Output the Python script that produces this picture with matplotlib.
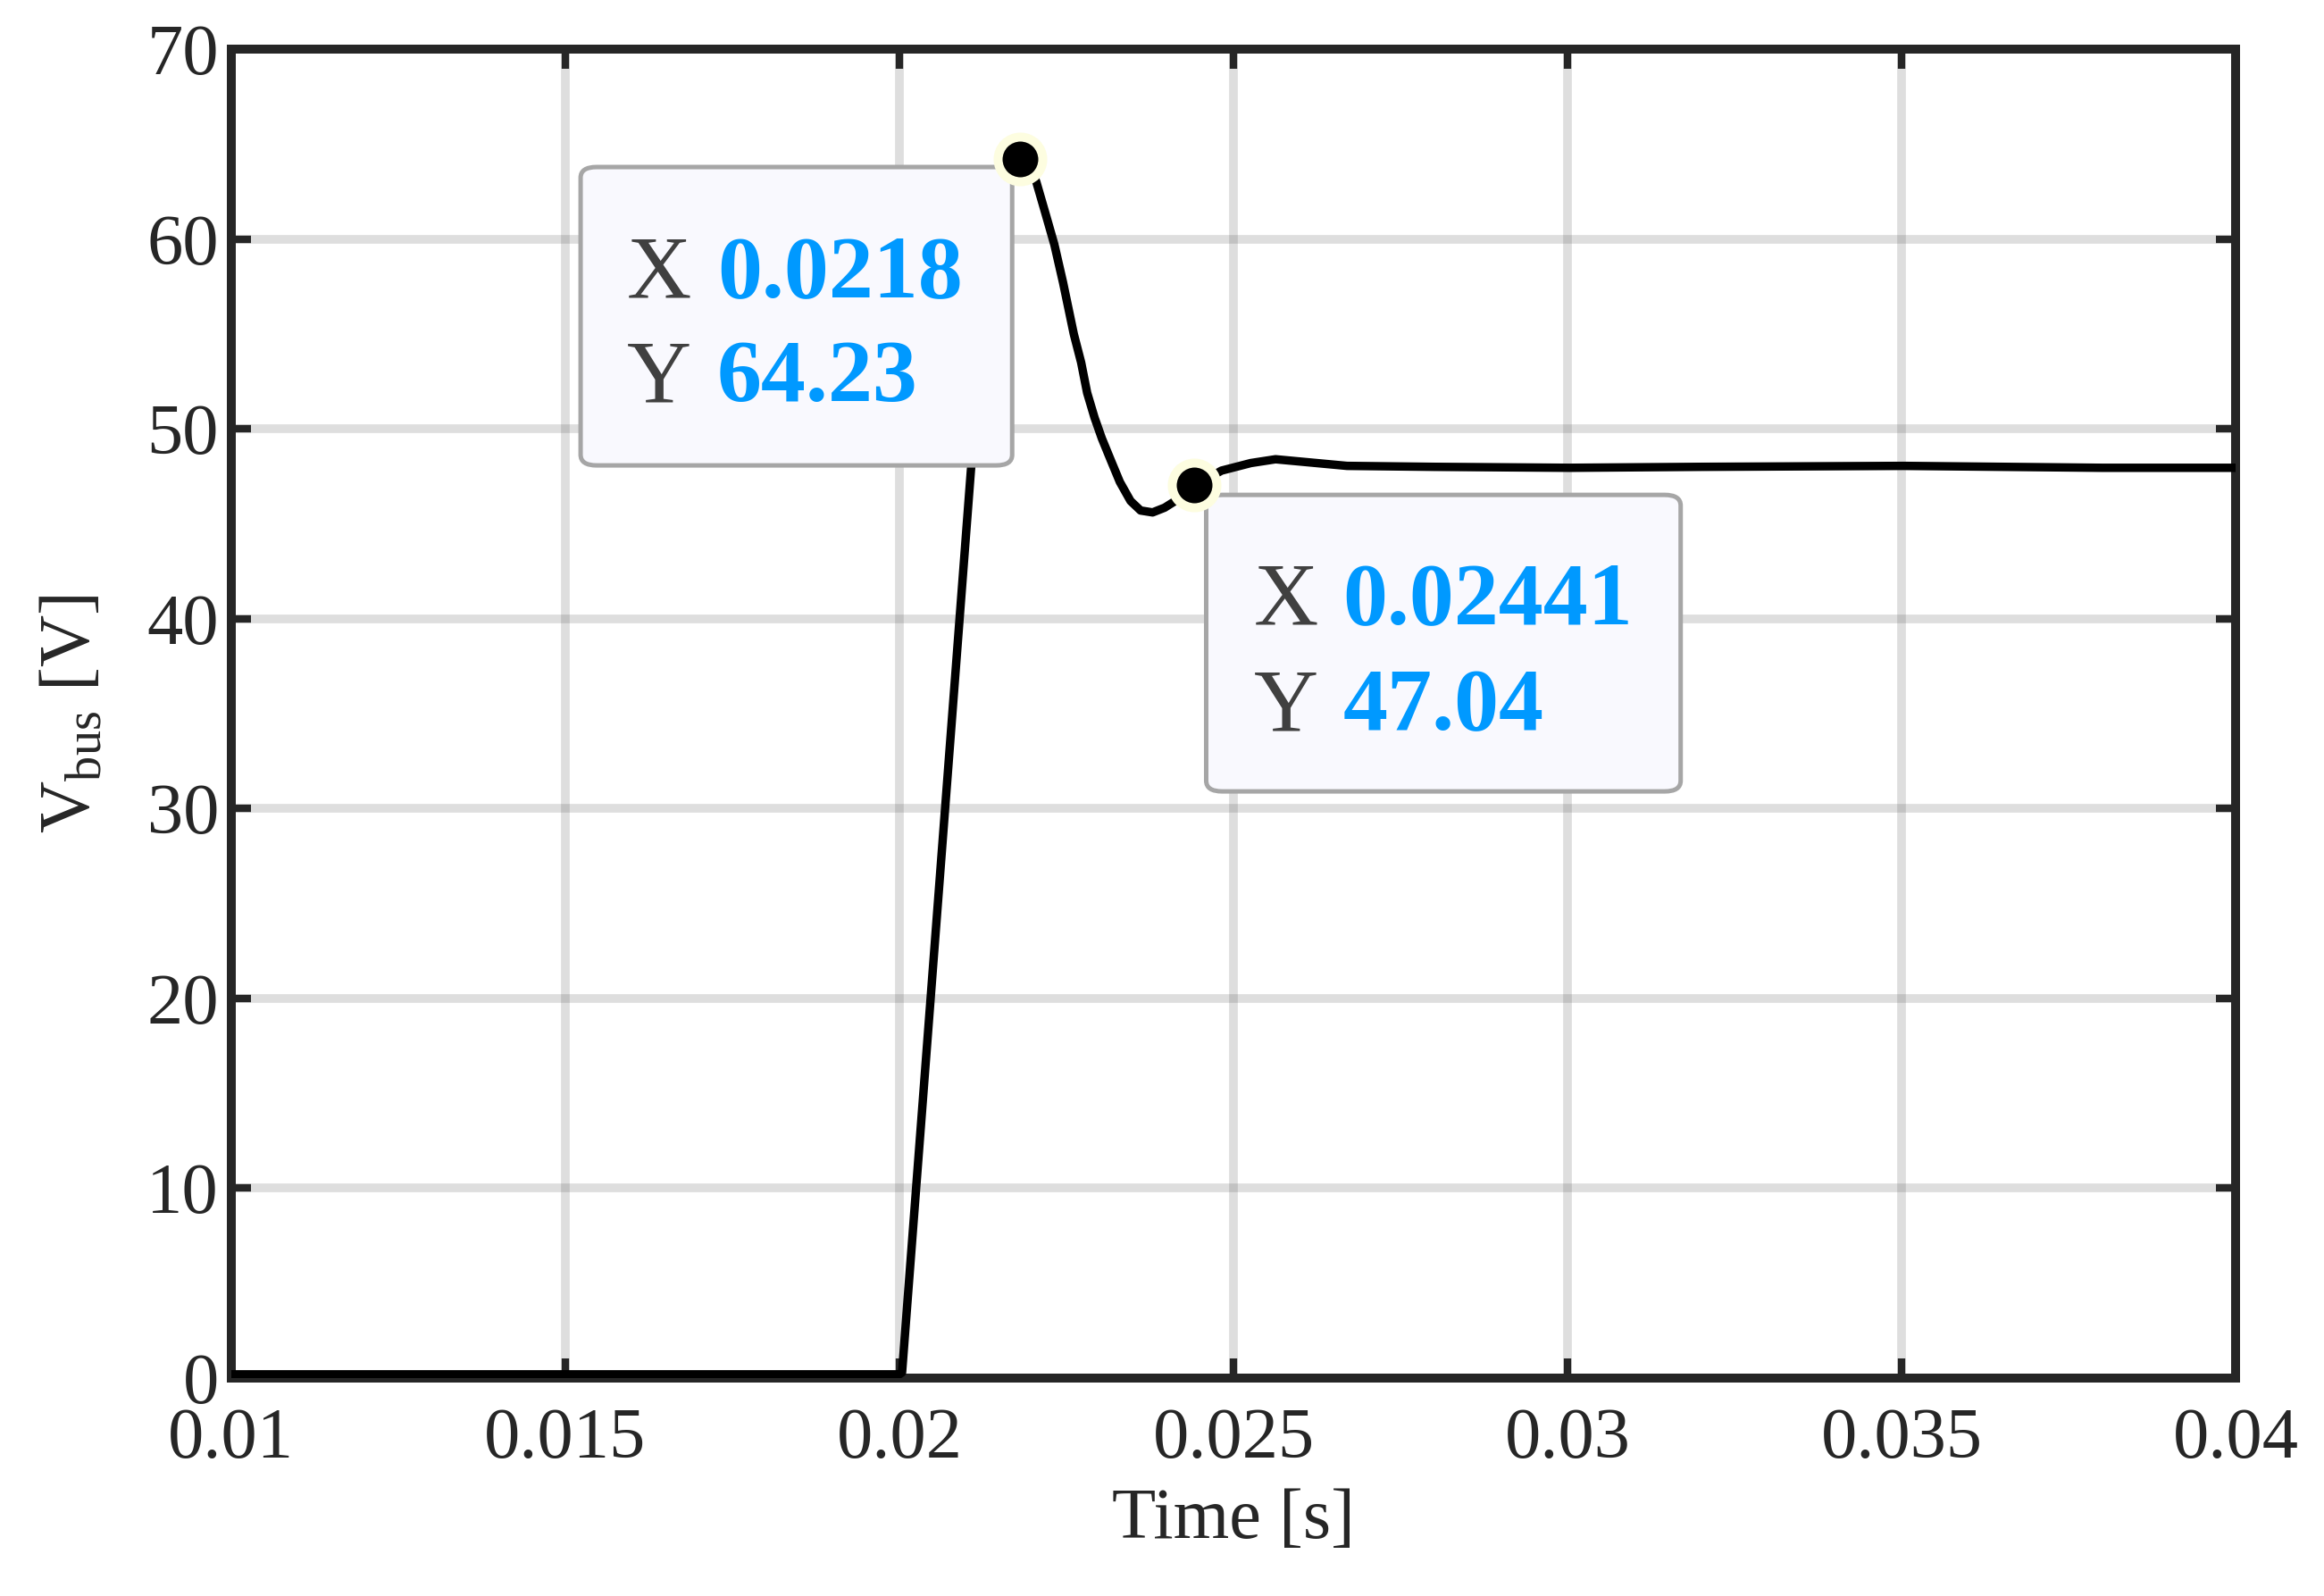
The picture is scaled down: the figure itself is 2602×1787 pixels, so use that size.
import matplotlib
matplotlib.use("Agg")
import matplotlib.pyplot as plt
from matplotlib.patches import FancyBboxPatch

# bus voltage trace
time_s = [0.0100, 0.0120, 0.0140, 0.0160, 0.0180, 0.0200, 0.02004,
          0.02107, 0.02120, 0.02140, 0.02160, 0.02172, 0.02180,
          0.02195, 0.02205, 0.02219, 0.02232, 0.02245, 0.02261, 0.02272,
          0.02281, 0.02292, 0.02303, 0.02317, 0.02330, 0.02346, 0.02361,
          0.02379, 0.02397, 0.02415, 0.02444, 0.02482, 0.02526, 0.02563,
          0.02670, 0.02800, 0.03003, 0.03200, 0.03503, 0.03800, 0.04000]
v_bus = [0.2, 0.2, 0.2, 0.2, 0.2, 0.2, 0.3,
         47.8, 53.0, 59.0, 62.6, 63.9, 64.23,
         63.9, 63.0, 61.3, 59.7, 57.7, 55.0, 53.5,
         51.9, 50.6, 49.5, 48.3, 47.2, 46.2, 45.7,
         45.6, 45.85, 46.25, 47.04, 47.8, 48.2, 48.4,
         48.05, 48.0, 47.95, 48.0, 48.05, 47.95, 47.95]

# data tips
tip_x = [0.0218, 0.02441]
tip_y = [64.23, 47.04]
tip_x_text = ["0.0218", "0.02441"]
tip_y_text = ["64.23", "47.04"]

x_ticks = [0.01, 0.015, 0.02, 0.025, 0.03, 0.035, 0.04]
x_tick_labels = ["0.01", "0.015", "0.02", "0.025", "0.03", "0.035", "0.04"]
y_ticks = [0, 10, 20, 30, 40, 50, 60, 70]

plt.rcParams["font.family"] = ["Liberation Serif", "DejaVu Serif"]
plt.rcParams["mathtext.fontset"] = "custom"
plt.rcParams["mathtext.rm"] = "Liberation Serif"

dark = "#262626"
fig = plt.figure(figsize=(13.01, 8.935), dpi=200)
ax = fig.add_axes([0.0995, 0.1365, 0.8625, 0.8327])

ax.plot(time_s, v_bus, color="black", linewidth=3.4, zorder=3)

ax.set_xlim(0.01, 0.04)
ax.set_ylim(0, 70)
ax.set_xticks(x_ticks)
ax.set_xticklabels(x_tick_labels)
ax.set_yticks(y_ticks)

ax.grid(True, color=dark, alpha=0.15, linewidth=3.5)
ax.set_axisbelow(True)
ax.tick_params(direction="in", length=8, width=3, colors=dark, labelsize=29,
               top=True, right=True)
ax.tick_params(axis="x", pad=12)
ax.tick_params(axis="y", pad=5)
for sp in ax.spines.values():
    sp.set_linewidth(3.6)
    sp.set_color(dark)

ax.set_xlabel("Time [s]", fontsize=29, color=dark, labelpad=6)
ax.set_ylabel(r"V$_{\mathrm{bus}}$ [V]", fontsize=29, color=dark, labelpad=17)

# data tip boxes (axes fraction)
boxes = [(0.1743, 0.6868, 0.3896, 0.9113), (0.4864, 0.4415, 0.7231, 0.6646)]
label_x = [0.1974, 0.5100]
value_x = [0.2425, 0.5546]
row_y = [(0.8138, 0.7352), (0.5679, 0.4879)]

for i in range(2):
    x0, y0, x1, y1 = boxes[i]
    box = FancyBboxPatch((x0, y0), x1 - x0, y1 - y0,
                         boxstyle="round,pad=0,rounding_size=0.008",
                         transform=ax.transAxes, facecolor="#f9f9fe",
                         edgecolor="#a6a6a6", linewidth=1.8, zorder=5)
    ax.add_patch(box)
    ax.text(label_x[i], row_y[i][0], "X", transform=ax.transAxes, fontsize=36,
            color="#404040", va="baseline", zorder=6)
    ax.text(value_x[i], row_y[i][0], tip_x_text[i], transform=ax.transAxes,
            fontsize=36, color="#0099ff", fontweight="bold", va="baseline", zorder=6)
    ax.text(label_x[i], row_y[i][1], "Y", transform=ax.transAxes, fontsize=36,
            color="#404040", va="baseline", zorder=6)
    ax.text(value_x[i], row_y[i][1], tip_y_text[i], transform=ax.transAxes,
            fontsize=36, color="#0099ff", fontweight="bold", va="baseline", zorder=6)

ax.plot(tip_x, tip_y, linestyle="none", marker="o", markersize=18,
        markerfacecolor="black", markeredgecolor="#fdfde0", markeredgewidth=3.6,
        zorder=7, clip_on=False)

fig.savefig("out.png", dpi=200)
